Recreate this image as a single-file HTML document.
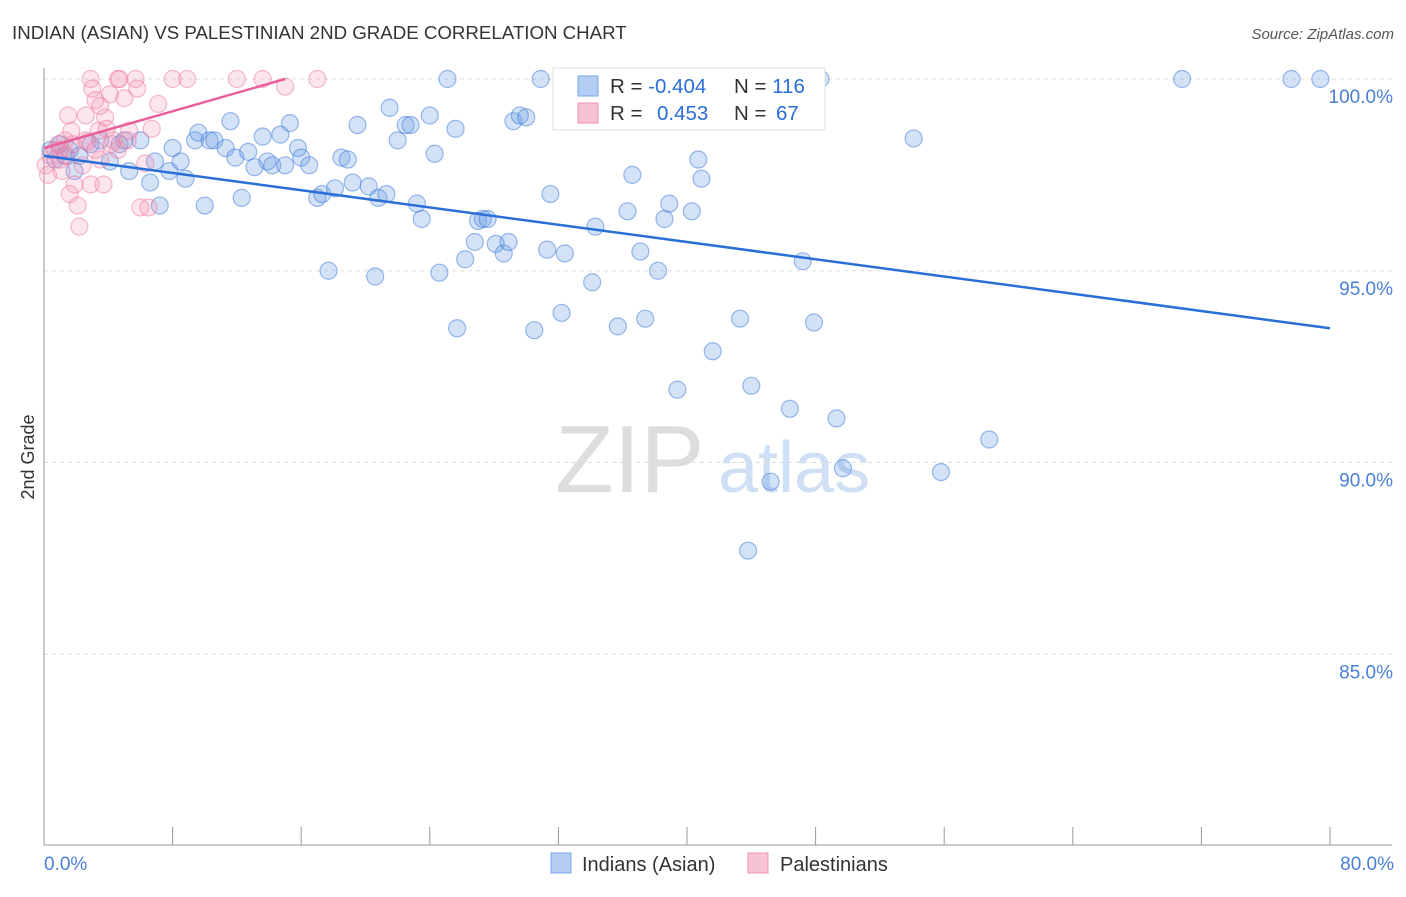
<!DOCTYPE html>
<html><head><meta charset="utf-8"><style>
body{margin:0;background:#fff;font-family:"Liberation Sans",sans-serif;}
svg text{font-family:"Liberation Sans",sans-serif;}
</style></head><body>
<svg id="chart" width="1406" height="892" xmlns="http://www.w3.org/2000/svg">
<text x="12" y="39" font-size="18.7" fill="#333">INDIAN (ASIAN) VS PALESTINIAN 2ND GRADE CORRELATION CHART</text>
<text x="1394" y="39" font-size="15" fill="#555" text-anchor="end" font-style="italic">Source: ZipAtlas.com</text>
<text x="34" y="457" font-size="18" fill="#333" text-anchor="middle" transform="rotate(-90 34 457)">2nd Grade</text>
<g><text x="555" y="492" font-size="96" fill="#ddd" font-family="Liberation Serif">ZIP</text><text x="718" y="492" font-size="72" fill="#cfdff5">atlas</text></g>
<g id="grid"></g><g id="axes"></g><g id="pts"></g><g id="lines"></g>
<g>
<rect x="553" y="68" width="272" height="62" fill="#fff" stroke="#ddd"/>
<rect x="578" y="76" width="20" height="20" fill="#b4cdf2" stroke="#7aa6e6"/>
<rect x="578" y="103" width="20" height="20" fill="#f7c3d4" stroke="#ef93b2"/>
<text x="610" y="93" font-size="20.5" fill="#333">R = <tspan fill="#2a6fd8">-0.404</tspan></text>
<text x="734" y="93" font-size="20.5" fill="#333">N = <tspan fill="#2a6fd8">116</tspan></text>
<text x="610" y="120" font-size="20.5" fill="#333">R = <tspan fill="#2a6fd8" x="657">0.453</tspan></text>
<text x="734" y="120" font-size="20.5" fill="#333">N = <tspan fill="#2a6fd8" x="776">67</tspan></text>
</g>
<g>
<rect x="551" y="853" width="20" height="20" fill="#b4cdf2" stroke="#7aa6e6"/>
<text x="582" y="871" font-size="20" fill="#333">Indians (Asian)</text>
<rect x="748" y="853" width="20" height="20" fill="#f7c3d4" stroke="#ef93b2"/>
<text x="780" y="871" font-size="20" fill="#333">Palestinians</text>
</g>
</svg>
<script>
const blueX=[0.4,0.7,1.0,1.3,1.6,1.9,2.2,2.9,3.5,4.1,4.7,5.0,5.3,6.0,6.6,6.9,7.2,7.8,8.0,8.5,8.8,9.4,9.6,10.0,10.3,10.6,11.3,11.6,11.9,12.3,12.7,13.1,13.6,13.9,14.2,14.7,15.0,15.3,15.8,16.0,16.5,17.0,17.3,17.7,18.1,18.5,18.9,19.2,19.5,20.2,20.6,20.8,21.3,21.5,22.0,22.5,22.8,23.2,23.5,24.0,24.3,24.6,25.1,25.6,25.7,26.2,26.8,27.0,27.3,27.6,28.1,28.6,28.9,29.2,29.6,30.0,30.5,30.9,31.3,31.5,32.2,32.4,34.1,34.3,35.7,36.3,36.6,37.1,37.4,38.2,38.6,38.9,39.4,40.3,40.7,40.9,41.6,43.3,43.8,44.0,45.2,46.4,47.2,47.9,49.3,49.7,54.1,55.8,58.8,70.8,77.6,79.4,46.7,48.3];
const blueY=[98.15,97.9,98.3,98.0,98.15,97.6,98.0,98.3,98.4,97.85,98.3,98.4,97.6,98.4,97.3,97.85,96.7,97.6,98.2,97.85,97.4,98.4,98.6,96.7,98.4,98.4,98.2,98.9,97.95,96.9,98.1,97.7,98.5,97.85,97.75,98.55,97.75,98.85,98.2,97.95,97.75,96.9,97.0,95.0,97.15,97.95,97.9,97.3,98.8,97.2,94.85,96.9,97.0,99.25,98.4,98.8,98.8,96.75,96.35,99.05,98.05,94.95,100,98.7,93.5,95.3,95.75,96.3,96.35,96.35,95.7,95.45,95.75,98.9,99.05,99.0,93.45,100,95.55,97.0,93.9,95.45,94.7,96.15,93.55,96.55,97.5,95.5,93.75,95.0,96.35,96.75,91.9,96.55,97.9,97.4,92.9,93.75,87.7,92.0,89.5,91.4,95.25,93.65,91.15,89.85,98.45,89.75,90.6,100,100,100,100,100];
const pinkX=[0.4,0.7,1.0,1.3,1.5,1.7,1.9,2.1,2.2,2.6,2.6,2.9,2.9,3.0,3.2,3.4,3.5,3.7,3.8,3.9,4.1,4.3,4.6,4.7,5.0,5.2,5.7,5.8,6.0,6.3,6.5,6.7,7.1,8.0,8.9,12.0,13.6,15.0,17.0,0.1,0.25,0.9,1.1,1.6,3.5,4.2,2.4,1.0,1.4,1.8,2.7,3.2,5.3,4.6];
const pinkY=[98.0,98.15,97.9,98.4,99.05,98.65,97.25,96.7,96.15,99.05,98.4,97.25,100,99.75,99.45,98.65,97.9,97.25,99.0,98.7,99.6,98.4,100,100,99.5,98.4,100,99.75,96.65,97.8,96.65,98.7,99.35,100,100,100,100,99.8,100,97.75,97.5,98.3,97.6,97.0,99.3,98.3,97.75,98.15,98.0,98.3,98.35,98.15,98.65,98.15];
const yTicks=[100,95,90,85];
const yTickLabels=["100.0%","95.0%","90.0%","85.0%"];
const xTicks=[0,8,16,24,32,40,48,56,64,72,80];
const blueTrend=[[0,98.0],[80,93.5]];
const pinkTrend=[[0,98.2],[15,100]];
const NS="http://www.w3.org/2000/svg";
const sx=v=>44+v*(1330-44)/80;
const sy=v=>79+(100-v)*38.35;
function mk(t,a,p){const e=document.createElementNS(NS,t);for(const k in a)e.setAttribute(k,a[k]);p.appendChild(e);return e;}
const grid=document.getElementById('grid'),axes=document.getElementById('axes'),pts=document.getElementById('pts'),lines=document.getElementById('lines');
yTicks.forEach((v,i)=>{
 const l=mk('line',{x1:44,x2:1392,y1:sy(v),y2:sy(v),stroke:'#ddd','stroke-dasharray':'4,4'},grid);
 
 
 const t=mk('text',{x:1393,y:sy(v)+24,'font-size':19,fill:'#4a7fd6','text-anchor':'end'},axes);
 t.textContent=yTickLabels[i];
 
 
});
const ya=mk('line',{x1:44,x2:44,y1:68,y2:845,stroke:'#999'},axes);


const xa=mk('line',{x1:44,x2:1392,y1:845,y2:845,stroke:'#999'},axes);


xTicks.forEach(v=>{
 const l=mk('line',{x1:sx(v),x2:sx(v),y1:827,y2:845,stroke:'#999'},axes);
 
 
});
[[0,"0.0%","start",44],[80,"80.0%","end",1394]].forEach(d=>{
 const t=mk('text',{x:d[3],y:870,'font-size':19,fill:'#4a7fd6','text-anchor':d[2]},axes);
 t.textContent=d[1];
 
 
});
blueX.forEach((v,i)=>{
 const c=mk('circle',{cx:sx(v),cy:sy(blueY[i]),r:8.5,fill:'rgba(110,160,230,0.3)',stroke:'rgba(60,120,215,0.5)','stroke-width':1.2},pts);
 
 
});
pinkX.forEach((v,i)=>{
 const c=mk('circle',{cx:sx(v),cy:sy(pinkY[i]),r:8.5,fill:'rgba(245,150,185,0.25)',stroke:'rgba(235,120,160,0.5)','stroke-width':1.2},pts);
 
 
});
const bl=mk('line',{x1:sx(blueTrend[0][0]),y1:sy(blueTrend[0][1]),x2:sx(blueTrend[1][0]),y2:sy(blueTrend[1][1]),stroke:'#2a6fd8','stroke-width':2.5},lines);


const pl=mk('line',{x1:sx(pinkTrend[0][0]),y1:sy(pinkTrend[0][1]),x2:sx(pinkTrend[1][0]),y2:sy(pinkTrend[1][1]),stroke:'#e8609a','stroke-width':2.5},lines);


</script>
</body></html>
